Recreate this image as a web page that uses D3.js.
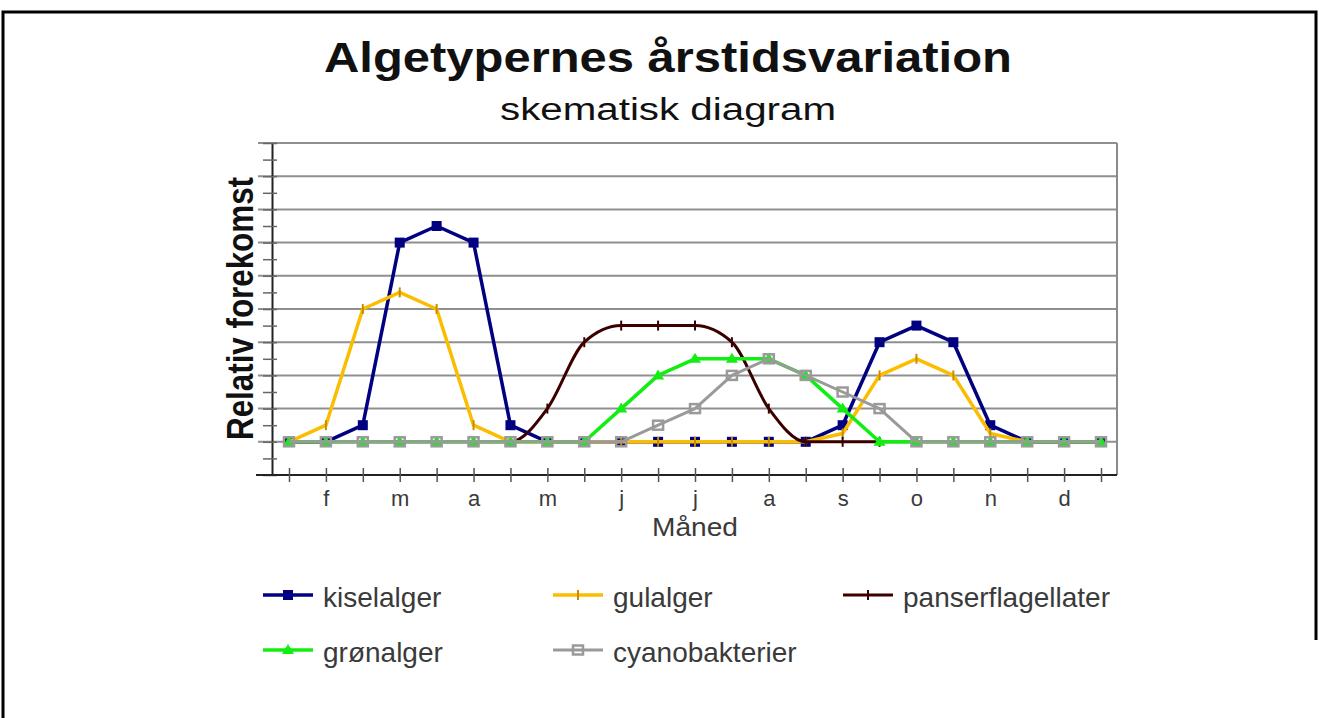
<!DOCTYPE html>
<html lang="en">
<head>
    <meta charset="UTF-8">
    <title>Algetypernes årstidsvariation</title>
    <script src="https://cdn.jsdelivr.net/npm/d3@7"></script>
    <style>
        body { margin: 0; background: #fff; }
        text { font-family: "Liberation Sans", Arial, sans-serif; }
    </style>
</head>
<body>
    <script>

        // month labels sit on every second tick (half-month steps)
        var months = ["f", "m", "a", "m", "j", "j", "a", "s", "o", "n", "d"];

        var kiselalger        = [0, 0, 0.5, 6, 6.5, 6, 0.5, 0, 0, 0, 0, 0, 0, 0, 0, 0.5, 3, 3.5, 3, 0.5, 0, 0, 0];
        var gulalger          = [0, 0.5, 4, 4.5, 4, 0.5, 0, 0, 0, 0, 0, 0, 0, 0, 0, 0.25, 2, 2.5, 2, 0.25, 0, 0, 0];
        var panserflagellater = [0, 0, 0, 0, 0, 0, 0, 1, 3, 3.5, 3.5, 3.5, 3, 1, 0, 0, 0, 0, 0, 0, 0, 0, 0];
        var gronalger         = [0, 0, 0, 0, 0, 0, 0, 0, 0, 1, 2, 2.5, 2.5, 2.5, 2, 1, 0, 0, 0, 0, 0, 0, 0];
        var cyanobakterier    = [0, 0, 0, 0, 0, 0, 0, 0, 0, 0, 0.5, 1, 2, 2.5, 2, 1.5, 1, 0, 0, 0, 0, 0, 0];

        var seriesNames = ["kiselalger", "gulalger", "panserflagellater", "grønalger", "cyanobakterier"];

        var width = 1319, height = 718;
        var plotLeft = 272, plotRight = 1117, plotTop = 143, plotBottom = 475;

        var series = [
            { name: seriesNames[0], values: kiselalger,        color: "#000080", mark: "square", w: 3.5 },
            { name: seriesNames[1], values: gulalger,          color: "#fbbd00", mark: "tick",   w: 3.5 },
            { name: seriesNames[2], values: panserflagellater, color: "#3a0000", mark: "tick",   w: 3, smooth: true },
            { name: seriesNames[3], values: gronalger,         color: "#11ee11", mark: "tri",    w: 3.5 },
            { name: seriesNames[4], values: cyanobakterier,    color: "#9a9a9a", mark: "hollow", w: 3 }
        ];

        var svg = d3.select("body")
                    .append("svg")
                    .attr("width", width)
                    .attr("height", height);

        // outer frame
        svg.append("path")
           .attr("d", "M3,718 L3,12 L1316,12 L1316,640")
           .attr("fill", "none")
           .attr("stroke", "#000")
           .attr("stroke-width", 3);

        var x = d3.scaleLinear().domain([0, 22]).range([289, 1101]);
        var y = d3.scaleLinear().domain([-1, 9]).range([plotBottom, plotTop]);

        // grid
        svg.append("g").selectAll("line")
           .data(d3.range(0, 10))
           .enter().append("line")
           .attr("x1", plotLeft - 14).attr("x2", plotRight)
           .attr("y1", function(d) { return y(d); })
           .attr("y2", function(d) { return y(d); })
           .attr("stroke", "#8f8f8f")
           .attr("stroke-width", 2);

        svg.append("line")
           .attr("x1", plotRight).attr("x2", plotRight)
           .attr("y1", plotTop).attr("y2", plotBottom)
           .attr("stroke", "#8a8a8a")
           .attr("stroke-width", 2);

        // y axis with half-unit ticks
        var yAxis = svg.append("g")
           .attr("transform", "translate(" + plotLeft + ",0)")
           .call(d3.axisLeft(y).tickValues(d3.range(-1, 9.01, 0.5)).tickFormat("").tickSizeInner(10).tickSizeOuter(0));
        yAxis.selectAll(".tick line").attr("x2", -9).attr("x1", 5).attr("stroke", "#666").attr("stroke-width", 1.5);
        yAxis.select(".domain").attr("stroke", "#222").attr("stroke-width", 2);

        // x axis
        var xAxis = svg.append("g")
           .attr("transform", "translate(0," + plotBottom + ")")
           .call(d3.axisBottom(x)
                .tickValues(d3.range(0, 23))
                .tickFormat(function(d) { return d % 2 == 1 ? months[(d - 1) / 2] : ""; })
                .tickSizeInner(7).tickSizeOuter(0));
        xAxis.select(".domain").attr("d", "M" + (plotLeft - 16) + ",0H" + plotRight).attr("stroke", "#222").attr("stroke-width", 2);
        xAxis.selectAll(".tick line").attr("y1", -7).attr("y2", 7).attr("stroke", "#555").attr("stroke-width", 1.5);
        xAxis.selectAll(".tick text")
             .attr("y", 31).attr("dy", 0)
             .attr("fill", "#3a3a3a")
             .style("font-size", "22px")
             .style("font-family", "'Liberation Sans', Arial, sans-serif");

        // lines + markers
        series.forEach(function(s) {
            var line = d3.line()
                         .x(function(d, i) { return x(i); })
                         .y(function(d) { return y(d); });
            if (s.smooth) line.curve(d3.curveMonotoneX);

            var g = svg.append("g");
            g.append("path")
             .attr("d", line(s.values))
             .attr("fill", "none")
             .attr("stroke", s.color)
             .attr("stroke-width", s.w)
             .attr("stroke-linejoin", "round");

            drawMarks(g, s, s.values.map(function(d, i) { return [x(i), y(d)]; }));
        });

        function drawMarks(g, s, pts) {
            var m = g.selectAll(".m").data(pts).enter();
            if (s.mark == "square") {
                m.append("rect")
                 .attr("x", function(d) { return d[0] - 5; }).attr("y", function(d) { return d[1] - 5; })
                 .attr("width", 10).attr("height", 10)
                 .attr("fill", s.color);
            } else if (s.mark == "hollow") {
                m.append("rect")
                 .attr("x", function(d) { return d[0] - 5; }).attr("y", function(d) { return d[1] - 4.5; })
                 .attr("width", 10).attr("height", 9)
                 .attr("fill", "none")
                 .attr("stroke", s.color).attr("stroke-width", 2.5);
            } else if (s.mark == "tri") {
                m.append("path")
                 .attr("d", function(d) { return "M" + (d[0] - 6) + "," + (d[1] + 4) + "L" + (d[0] + 6) + "," + (d[1] + 4) + "L" + d[0] + "," + (d[1] - 6) + "Z"; })
                 .attr("fill", s.color);
            } else {
                m.append("line")
                 .attr("x1", function(d) { return d[0]; }).attr("x2", function(d) { return d[0]; })
                 .attr("y1", function(d) { return d[1] - 5; }).attr("y2", function(d) { return d[1] + 5; })
                 .attr("stroke", s.color == "#fbbd00" ? "#c88c00" : s.color)
                 .attr("stroke-width", 2);
            }
        }

        // titles
        svg.append("text").text("Algetypernes årstidsvariation")
           .attr("x", 668).attr("y", 72)
           .attr("text-anchor", "middle")
           .attr("textLength", 688).attr("lengthAdjust", "spacingAndGlyphs")
           .style("font-size", "42px").style("font-weight", "bold")
           .attr("fill", "#111");

        svg.append("text").text("skematisk diagram")
           .attr("x", 668).attr("y", 120)
           .attr("text-anchor", "middle")
           .attr("textLength", 336).attr("lengthAdjust", "spacingAndGlyphs")
           .style("font-size", "31px")
           .attr("fill", "#111");

        svg.append("text").text("Relativ forekomst")
           .attr("transform", "translate(253,308.5) scale(1.17,1) rotate(-90)")
           .attr("text-anchor", "middle")
           .attr("textLength", 263).attr("lengthAdjust", "spacingAndGlyphs")
           .style("font-size", "31px").style("font-weight", "bold")
           .attr("fill", "#111");

        svg.append("text").text("Måned")
           .attr("x", 695).attr("y", 536)
           .attr("text-anchor", "middle")
           .attr("textLength", 86).attr("lengthAdjust", "spacingAndGlyphs")
           .style("font-size", "26px")
           .attr("fill", "#3a3a3a");

        // legend
        var legendPos = [[263, 595], [553, 595], [843, 595], [263, 650], [553, 650]];
        series.forEach(function(s, i) {
            var p = legendPos[i];
            var g = svg.append("g");
            g.append("line")
             .attr("x1", p[0]).attr("x2", p[0] + 50)
             .attr("y1", p[1]).attr("y2", p[1])
             .attr("stroke", s.color).attr("stroke-width", s.w);
            drawMarks(g, s, [[p[0] + 25, p[1]]]);
            g.append("text").text(s.name)
             .attr("x", p[0] + 60).attr("y", p[1] + 12)
             .style("font-size", "28px")
             .attr("fill", "#3a3a3a");
        });

    </script>
</body>
</html>
